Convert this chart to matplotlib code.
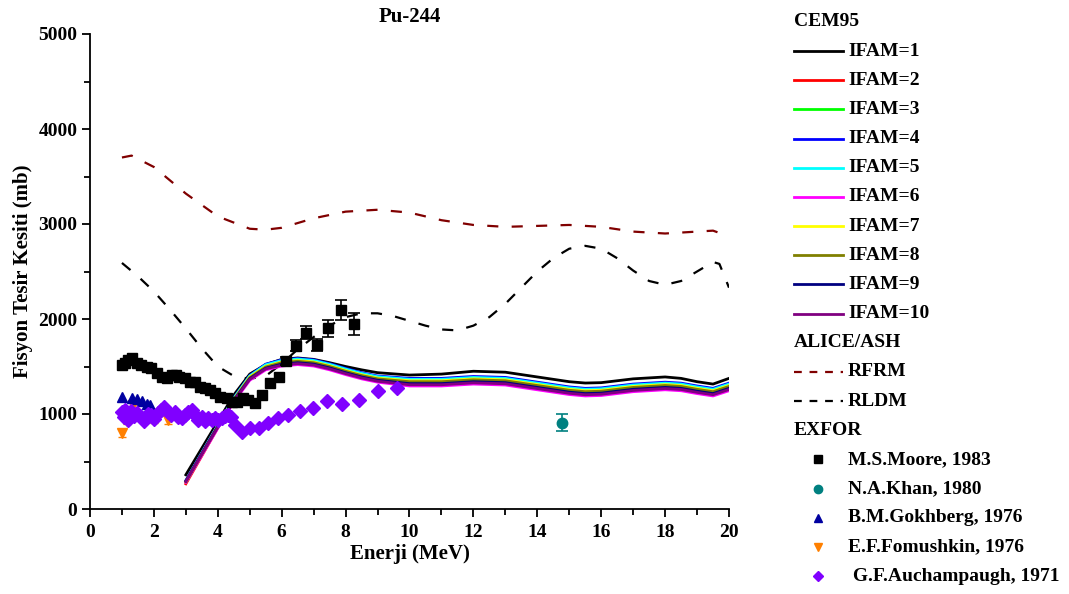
import numpy as np
import matplotlib
matplotlib.use("Agg")
import matplotlib.pyplot as plt
from matplotlib.lines import Line2D

plt.rcParams['font.family'] = ['Liberation Serif', 'DejaVu Serif']
plt.rcParams['font.weight'] = 'bold'
plt.rcParams['axes.labelweight'] = 'bold'
plt.rcParams['axes.titleweight'] = 'bold'

# ---- CEM95 (IFAM = 1..10) ----
e_cem = [3, 3.5, 4, 4.5, 5, 5.5, 6, 6.5, 7, 7.5, 8, 8.5, 9, 10, 11, 12, 13, 14,
         15, 15.5, 16, 17, 18, 18.5, 19, 19.5, 20]
ifam1 = [360, 640, 920, 1200, 1420, 1520, 1575, 1590, 1575, 1540, 1500, 1465, 1435, 1410, 1420, 1450, 1440, 1390,
         1340, 1326, 1330, 1370, 1390, 1375, 1340, 1315, 1375]
ifam2 = [265, 560, 855, 1140, 1385, 1500, 1545, 1560, 1545, 1505, 1455, 1410, 1375, 1345, 1345, 1365, 1355, 1305,
         1255, 1240, 1245, 1285, 1305, 1295, 1265, 1240, 1295]
ifam3 = [285, 580, 870, 1160, 1395, 1510, 1555, 1570, 1555, 1515, 1465, 1420, 1385, 1355, 1355, 1375, 1365, 1315,
         1265, 1250, 1255, 1295, 1315, 1305, 1275, 1250, 1305]
ifam4 = [300, 595, 885, 1170, 1405, 1525, 1570, 1585, 1570, 1530, 1480, 1435, 1400, 1375, 1375, 1395, 1385, 1335,
         1285, 1270, 1275, 1315, 1335, 1325, 1295, 1270, 1325]
ifam5 = [295, 590, 880, 1165, 1400, 1518, 1563, 1578, 1563, 1523, 1473, 1428, 1393, 1365, 1365, 1385, 1375, 1325,
         1275, 1260, 1265, 1305, 1325, 1315, 1285, 1260, 1315]
ifam6 = [280, 565, 850, 1125, 1355, 1465, 1505, 1520, 1505, 1465, 1415, 1370, 1335, 1295, 1295, 1315, 1305, 1255,
         1205, 1190, 1195, 1235, 1255, 1245, 1215, 1190, 1245]
ifam7 = [290, 585, 875, 1155, 1390, 1503, 1548, 1563, 1548, 1508, 1458, 1413, 1378, 1350, 1350, 1370, 1360, 1310,
         1260, 1245, 1250, 1290, 1310, 1300, 1270, 1245, 1300]
ifam8 = [290, 580, 870, 1150, 1382, 1495, 1540, 1555, 1540, 1500, 1450, 1405, 1370, 1340, 1340, 1360, 1350, 1300,
         1250, 1235, 1240, 1280, 1300, 1290, 1260, 1235, 1290]
ifam9 = [295, 585, 870, 1145, 1372, 1482, 1525, 1540, 1525, 1485, 1435, 1390, 1355, 1320, 1320, 1340, 1330, 1280,
         1230, 1215, 1220, 1260, 1280, 1270, 1240, 1215, 1270]
ifam10 = [290, 578, 862, 1138, 1365, 1475, 1515, 1530, 1515, 1475, 1425, 1380, 1345, 1308, 1308, 1328, 1318, 1268,
          1218, 1203, 1208, 1248, 1268, 1258, 1228, 1203, 1258]
ifam_colors = ['#000000', '#FF0000', '#00FF00', '#0000FF', '#00FFFF',
               '#FF00FF', '#FFFF00', '#808000', '#000080', '#800080']

# ---- ALICE/ASH ----
e_rfrm = [1, 1.3, 2, 3, 4, 5, 5.5, 6, 7, 8, 9, 10, 11, 12, 13, 14, 15, 16, 17, 18, 19, 19.5, 20]
rfrm = [3700, 3720, 3600, 3320, 3080, 2950, 2940, 2960, 3060, 3130, 3150, 3120, 3040, 2990, 2970, 2980,
        2990, 2970, 2920, 2900, 2920, 2930, 2870]
e_rldm = [1, 1.5, 2, 2.5, 3, 3.5, 4, 4.5, 5, 5.5, 6, 6.5, 7, 7.5, 8, 8.5, 9, 9.5, 10, 10.5, 11, 11.5, 12,
          12.5, 13, 13.5, 14, 14.5, 15, 15.5, 16, 16.5, 17, 17.5, 18, 18.5, 19, 19.5, 19.7, 20]
rldm = [2590, 2450, 2290, 2100, 1900, 1690, 1500, 1400, 1370, 1400, 1530, 1680, 1810, 1930, 2020, 2060,
        2060, 2030, 1980, 1930, 1890, 1880, 1930, 2020, 2160, 2330, 2500, 2640, 2740, 2770, 2740, 2640,
        2510, 2400, 2360, 2400, 2500, 2600, 2580, 2330]

# ---- EXFOR ----
e_moore = [0.99, 1.1, 1.2, 1.3, 1.46, 1.6, 1.77, 1.9, 2.09, 2.24, 2.4, 2.56, 2.7, 2.8, 2.97, 3.13, 3.29,
           3.44, 3.6, 3.76, 3.91, 4.07, 4.28, 4.43, 4.59, 4.8, 4.96, 5.16, 5.39, 5.63, 5.9, 6.13,
           6.45, 6.76, 7.1, 7.46, 7.85, 8.26]
s_moore = [1516, 1533, 1568, 1586, 1533, 1516, 1498, 1480, 1428, 1393, 1375, 1410, 1410, 1393, 1375, 1340,
           1340, 1287, 1270, 1253, 1218, 1182, 1165, 1130, 1130, 1165, 1147, 1119, 1200, 1330, 1386, 1561,
           1719, 1856, 1726, 1902, 2095, 1947]
err_moore = [0] * 31 + [40, 60, 70, 65, 90, 110, 115]

e_khan = [14.78]
s_khan = [908]
err_khan = [90]

e_gokh = [0.99, 1.3, 1.46, 1.62, 1.77, 1.88]
s_gokh = [1182, 1170, 1160, 1140, 1110, 1090]

e_fomu = [1.0, 1.15, 1.35, 2.0, 2.45]
s_fomu = [800, 930, 1090, 950, 940]
err_fomu = [40, 40, 40, 40, 40]

e_auch = [1.00, 1.05, 1.10, 1.18, 1.28, 1.38, 1.48, 1.58, 1.70, 1.80, 1.90, 2.00, 2.12, 2.22, 2.33,
          2.43, 2.55, 2.65, 2.76, 2.87, 2.97, 3.08, 3.18, 3.29, 3.39, 3.50, 3.60, 3.70, 3.81, 3.91,
          4.02, 4.12, 4.22, 4.32, 4.40, 4.54, 4.77, 5.0, 5.29, 5.56, 5.87, 6.2, 6.57, 6.97, 7.41,
          7.9, 8.43, 9.0, 9.6]
s_auch = [1025, 970, 1040, 940, 1030, 980, 1015, 975, 930, 1005, 990, 945, 1010, 1040, 1070, 1025, 990,
          1020, 970, 960, 990, 1020, 1045, 990, 940, 970, 925, 955, 940, 960, 935, 960, 975, 990, 970,
          884, 814, 849, 849, 908, 955, 989, 1031, 1066, 1137, 1102, 1147, 1245, 1277]

W, H = 1069, 594
fig = plt.figure(figsize=(W / 100, H / 100), dpi=100)
ax = fig.add_axes([90 / W, 1 - 509 / H, (729 - 90) / W, (509 - 34) / H])

# model curves
cem = [ifam1, ifam2, ifam3, ifam4, ifam5, ifam6, ifam7, ifam8, ifam9, ifam10]
draw_order = [5, 9, 8, 1, 7, 6, 2, 4, 3, 0]
for k in draw_order:
    ax.plot(e_cem, cem[k], color=ifam_colors[k], lw=2.0, zorder=2 + k * 0.01)
rfrm_style = dict(color='#800000', lw=1.6, dashes=(5, 6))
rldm_style = dict(color='#000000', lw=1.6, dashes=(5, 6))
ax.plot(e_rfrm, rfrm, **rfrm_style, zorder=2)
ax.plot(e_rldm, rldm, **rldm_style, zorder=2)

# experimental data
moore_style = dict(marker='s', color='#000000', ms=7, ls='none')
khan_style = dict(marker='o', color='#008080', ms=7.5, ls='none')
gokh_style = dict(marker='^', color='#0000A0', ms=7, ls='none')
fomu_style = dict(marker='v', color='#FF8000', ms=7, ls='none')
auch_style = dict(marker='D', color='#8000FF', ms=7, ls='none')

m = np.array(err_moore) > 0
ax.errorbar(np.array(e_moore)[m], np.array(s_moore)[m], yerr=np.array(err_moore)[m], fmt='none',
            ecolor='black', elinewidth=1.2, capsize=4, capthick=1.2, zorder=4)
ax.plot(e_moore, s_moore, **moore_style, zorder=5)
ax.errorbar(e_khan, s_khan, yerr=err_khan, fmt='none', ecolor='#008080', elinewidth=1.2,
            capsize=4, capthick=1.2, zorder=4)
ax.plot(e_khan, s_khan, **khan_style, zorder=5)
ax.errorbar(e_fomu, s_fomu, yerr=err_fomu, fmt='none', ecolor='#FF8000', elinewidth=1.0,
            capsize=3, capthick=1.0, zorder=4)
ax.plot(e_fomu, s_fomu, **fomu_style, zorder=5)
ax.plot(e_gokh, s_gokh, **gokh_style, zorder=5)
ax.plot(e_auch, s_auch, **auch_style, zorder=6)

ax.set_xlim(0, 20)
ax.set_ylim(0, 5000)
ax.set_xticks(range(0, 21, 2))
ax.set_xticks(range(1, 20, 2), minor=True)
ax.set_yticks(range(0, 5001, 1000))
ax.set_yticks(range(500, 5000, 1000), minor=True)
ax.spines['top'].set_visible(False)
ax.spines['right'].set_visible(False)
for s in ('left', 'bottom'):
    ax.spines[s].set_linewidth(1.3)
ax.tick_params(which='major', direction='out', length=6, width=1.3, labelsize=14)
ax.tick_params(axis='x', which='major', pad=5)
ax.tick_params(axis='y', which='major', pad=3)
ax.tick_params(which='minor', direction='out', length=4, width=1.3)
ax.set_xlabel('Enerji (MeV)', fontsize=15, labelpad=2)
ax.set_ylabel('Fisyon Tesir Kesiti (mb)', fontsize=15, labelpad=4)
ax.set_title('Pu-244', fontsize=15, pad=9)

# legend drawn at the right
rows = [('head', 'CEM95', None)]
for k in range(10):
    rows.append(('line', 'IFAM=%d' % (k + 1), dict(color=ifam_colors[k], lw=2.0)))
rows += [('head', 'ALICE/ASH', None),
         ('line', 'RFRM', dict(color='#800000', lw=1.6, dashes=(3.5, 3.5))),
         ('line', 'RLDM', dict(color='#000000', lw=1.6, dashes=(3.5, 3.5))),
         ('head', 'EXFOR', None),
         ('mark', 'M.S.Moore, 1983', moore_style),
         ('mark', 'N.A.Khan, 1980', khan_style),
         ('mark', 'B.M.Gokhberg, 1976', gokh_style),
         ('mark', 'E.F.Fomushkin, 1976', fomu_style),
         ('mark', ' G.F.Auchampaugh, 1971', auch_style)]

x0, x1, xt = 794, 843, 848
for i, (kind, label, style) in enumerate(rows):
    yf = 1 - (22 + 29.16 * i) / H
    if kind == 'head':
        fig.text(x0 / W, yf, label, fontsize=14, va='center', ha='left')
        continue
    if kind == 'line':
        fig.add_artist(Line2D([x0 / W, x1 / W], [yf, yf], transform=fig.transFigure, **style))
    else:
        st = dict(style)
        st['ms'] = st['ms'] * 0.8
        fig.add_artist(Line2D([818 / W], [yf], transform=fig.transFigure, **st))
    fig.text(xt / W, yf, label, fontsize=14, va='center', ha='left')

fig.savefig('out.png', dpi=100)
